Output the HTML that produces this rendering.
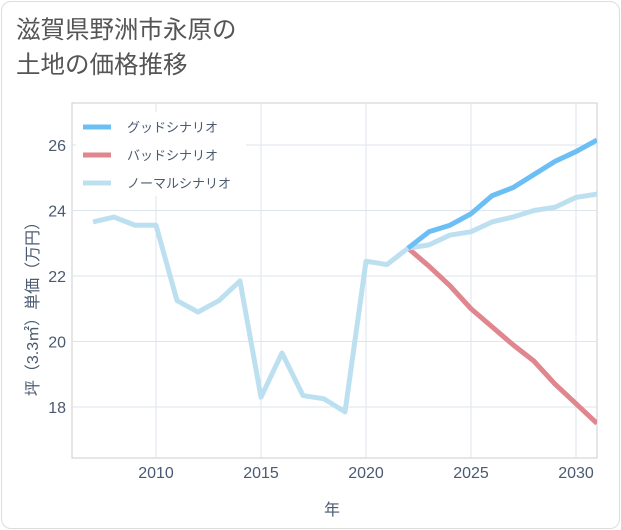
<!DOCTYPE html>
<html><head><meta charset="utf-8"><style>
body{margin:0;background:#fff;font-family:"Liberation Sans","Noto Sans CJK JP",sans-serif}
.card{position:absolute;left:1px;top:1px;width:617px;height:526px;border:1px solid #ddd;border-radius:10px;background:#fff}
.title{position:absolute;left:16px;top:13px;font-size:24.5px;line-height:35px;color:#555;}
</style></head><body>
<div class="card"></div>
<div class="title">滋賀県野洲市永原の<br>土地の価格推移</div>
<svg id="chart" width="621" height="530" style="position:absolute;left:0;top:0"></svg>
<script>
const years=[2007,2008,2009,2010,2011,2012,2013,2014,2015,2016,2017,2018,2019,2020,2021,2022,2023,2024,2025,2026,2027,2028,2029,2030,2031];
const normal=[23.65,23.8,23.55,23.55,21.25,20.9,21.25,21.85,18.3,19.65,18.35,18.25,17.85,22.45,22.35,22.85,22.95,23.25,23.35,23.65,23.8,24.0,24.1,24.4,24.5];
const goodYears=[2022,2023,2024,2025,2026,2027,2028,2029,2030,2031];
const good=[22.85,23.35,23.55,23.9,24.45,24.7,25.1,25.5,25.8,26.15];
const bad=[22.85,22.3,21.7,21.0,20.45,19.9,19.4,18.7,18.1,17.5];
const xTicks=[2010,2015,2020,2025,2030];
const yTicks=[18,20,22,24,26];
const L=72,R=597,T=103,B=458;
const x=v=>L+(v-2006)*(R-L)/25;
const y=v=>145+(26-v)*32.75;
const svg=document.getElementById('chart');
const NS='http://www.w3.org/2000/svg';
function mk(t,a){const e=document.createElementNS(NS,t);for(const k in a)e.setAttribute(k,a[k]);svg.appendChild(e);return e;}
let e;
e=mk('rect',{x:L,y:T,width:R-L,height:B-T,fill:'#fff',stroke:'#ccc'});


xTicks.forEach(t=>{
 e=mk('line',{x1:x(t),x2:x(t),y1:T,y2:B,stroke:'#dde5ee'});
 
 
 e=mk('text',{x:x(t),y:478,'text-anchor':'middle','font-size':16,fill:'#4a5a70'});e.textContent=t;
 
 
});
yTicks.forEach(t=>{
 e=mk('line',{x1:L,x2:R,y1:y(t),y2:y(t),stroke:'#dde5ee'});
 
 
 e=mk('text',{x:66,y:y(t)+6,'text-anchor':'end','font-size':16,fill:'#4a5a70'});e.textContent=t;
 
 
});
e=mk('text',{x:332,y:515,'text-anchor':'middle','font-size':16,fill:'#4a5a70'});e.textContent='年';


e=mk('text',{x:0,y:0,'text-anchor':'middle','font-size':16,fill:'#4a5a70',transform:'translate(38,305) rotate(-90)'});e.textContent='坪（3.3㎡）単価（万円）';


function line(xs,vs,col,name){
 const p=vs.map((v,i)=>(i?'L':'M')+x(xs[i])+','+y(v)).join('');
 const el=mk('path',{d:p,fill:'none',stroke:col,'stroke-width':5,'stroke-linejoin':'round'});
 
 
}
e=mk('defs',{});
const cp=document.createElementNS(NS,'clipPath');cp.setAttribute('id','c');e.appendChild(cp);
const r=document.createElementNS(NS,'rect');r.setAttribute('x',L);r.setAttribute('y',T);r.setAttribute('width',R-L);r.setAttribute('height',B-T);cp.appendChild(r);
const g=mk('g',{'clip-path':'url(#c)'});
function line2(xs,vs,col,name){line(xs,vs,col,name);g.appendChild(svg.lastChild);}
line2(goodYears,bad,'#e0868f','bad-scenario-line');
line2(years,normal,'#bde0f0','normal-scenario-line');
line2(goodYears,good,'#6bbff5','good-scenario-line');
e=mk('rect',{x:76,y:112,width:170,height:84,fill:'#fff'});


[['グッドシナリオ','#6bbff5'],['バッドシナリオ','#e0868f'],['ノーマルシナリオ','#bde0f0']].forEach((d,i)=>{
 const yy=127+i*28;
 e=mk('line',{x1:83,x2:111,y1:yy,y2:yy,stroke:d[1],'stroke-width':5});
 
 
 e=mk('text',{x:127,y:yy+5,'font-size':13,fill:'#4a5a70'});e.textContent=d[0];
 
 
});
</script>
</body></html>
